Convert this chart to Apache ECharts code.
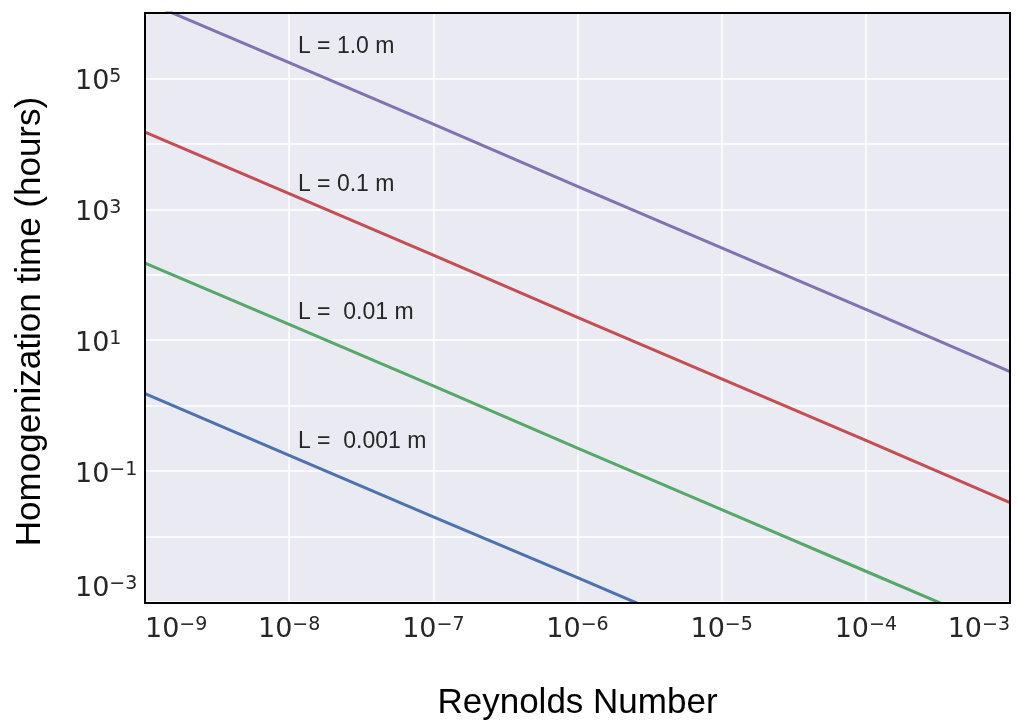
<!DOCTYPE html>
<html>
<head>
<meta charset="utf-8">
<script src="https://cdn.jsdelivr.net/npm/echarts@6/dist/echarts.min.js"></script>
<style>
  html, body { margin: 0; padding: 0; background: #ffffff; }
  #chart { width: 1018px; height: 726px; }
</style>
</head>
<body>
<div id="chart"></div>
<script>
// Reynolds numbers sampled at each decade
const reynolds = [1e-9, 1e-8, 1e-7, 1e-6, 1e-5, 1e-4, 1e-3];

// Homogenization time (hours) for each mixing length scale
const timeL1 = [1.51e6, 1.74e5, 2.0e4, 2.24e3, 257, 29.5, 3.3];
const timeL01 = [1.51e4, 1740, 200, 22.4, 2.57, 0.295, 0.033];
const timeL001 = [151, 17.4, 2.0, 0.224, 0.0257, 0.00295, 0.000339];
const timeL0001 = [1.53, 0.174, 0.020, 0.00235, 0.00027, 0.0000305, 0.0000035];

// Curve labels and where they sit (Reynolds number, hours)
const curveLabels = ['L = 1.0 m', 'L = 0.1 m', 'L =  0.01 m', 'L =  0.001 m'];
const labelRe = [1.15e-8, 1.15e-8, 1.15e-8, 1.15e-8];
const labelTime = [3.1e5, 2.4e3, 26, 0.28];

// Axis ranges (decades)
const xRange = [1e-9, 1e-3];
const yRange = [1e-3, 1e6];

const palette = ['#8172B2', '#C44E52', '#55A868', '#4C72B0'];
const seriesValues = [timeL1, timeL01, timeL001, timeL0001];

const TICK_COLOR = '#262626';
const TICK_FONT = 'DejaVu Sans';
const TEXT_FONT = 'Liberation Sans';

const PLOT = { left: 145, top: 13, width: 865, height: 590 };

function powerLabel(v) {
  const e = Math.round(Math.log10(v));
  const sign = e < 0 ? '\u2212' : '';
  return '{b|10}{sup|' + sign + Math.abs(e) + '}';
}

const chart = echarts.init(document.getElementById('chart'), null, { renderer: 'canvas' });

const series = seriesValues.map(function (vals, i) {
  return {
    type: 'line',
    data: reynolds.map(function (re, k) { return [re, vals[k]]; }),
    showSymbol: false,
    symbol: 'none',
    clip: true,
    lineStyle: { color: palette[i], width: 3 },
    itemStyle: { color: palette[i] },
    z: 3,
    markPoint: {
      symbol: 'circle',
      symbolSize: 0,
      silent: true,
      data: [{
        coord: [labelRe[i], labelTime[i]],
        label: {
          show: true,
          position: 'right',
          distance: 0,
          formatter: curveLabels[i],
          color: TICK_COLOR,
          fontSize: 23,
          fontFamily: TEXT_FONT
        }
      }]
    }
  };
});

const option = {
  animation: false,
  backgroundColor: '#ffffff',
  grid: {
    left: PLOT.left,
    top: PLOT.top,
    width: PLOT.width,
    height: PLOT.height,
    show: true,
    backgroundColor: '#EAEAF2',
    borderWidth: 0,
    containLabel: false
  },
  // black frame around the plotting area
  graphic: [{
    type: 'rect',
    z: 100,
    silent: true,
    shape: { x: PLOT.left, y: PLOT.top, width: PLOT.width, height: PLOT.height },
    style: { fill: null, stroke: '#000000', lineWidth: 2 }
  }],
  xAxis: {
    type: 'log',
    logBase: 10,
    min: xRange[0],
    max: xRange[1],
    splitNumber: 6,
    name: 'Reynolds Number',
    nameLocation: 'middle',
    nameGap: 84,
    nameTextStyle: { fontSize: 35, fontFamily: TEXT_FONT, color: '#000000' },
    axisLine: { show: false },
    axisTick: { show: false },
    splitLine: { show: true, lineStyle: { color: '#ffffff', width: 1.5 } },
    axisLabel: {
      show: true,
      showMinLabel: true,
      showMaxLabel: true,
      alignMinLabel: 'left',
      alignMaxLabel: 'right',
      margin: 14,
      formatter: powerLabel,
      rich: {
        b: { fontSize: 27, fontFamily: TICK_FONT, color: TICK_COLOR },
        sup: { fontSize: 19, fontFamily: TICK_FONT, color: TICK_COLOR, padding: [0, 0, 9, 0] }
      }
    }
  },
  yAxis: {
    type: 'log',
    logBase: 10,
    min: yRange[0],
    max: yRange[1],
    splitNumber: 9,
    name: 'Homogenization time (hours)',
    nameLocation: 'middle',
    nameGap: 97,
    nameTextStyle: { fontSize: 35, fontFamily: TEXT_FONT, color: '#000000', padding: [0, 28, 0, 0] },
    axisLine: { show: false },
    axisTick: { show: false },
    splitLine: { show: true, lineStyle: { color: '#ffffff', width: 1.5 } },
    axisLabel: {
      show: true,
      showMinLabel: true,
      showMaxLabel: true,
      verticalAlignMinLabel: 'bottom',
      align: 'left',
      margin: 70,
      formatter: function (v) {
        const e = Math.round(Math.log10(v));
        if (e % 2 === 0) return '';
        return powerLabel(v);
      },
      rich: {
        b: { fontSize: 27, fontFamily: TICK_FONT, color: TICK_COLOR, padding: [7, 0, 0, 0] },
        sup: { fontSize: 19, fontFamily: TICK_FONT, color: TICK_COLOR, padding: [0, 0, 2, 0] }
      }
    }
  },
  series: series
};

chart.setOption(option);
</script>
</body>
</html>
